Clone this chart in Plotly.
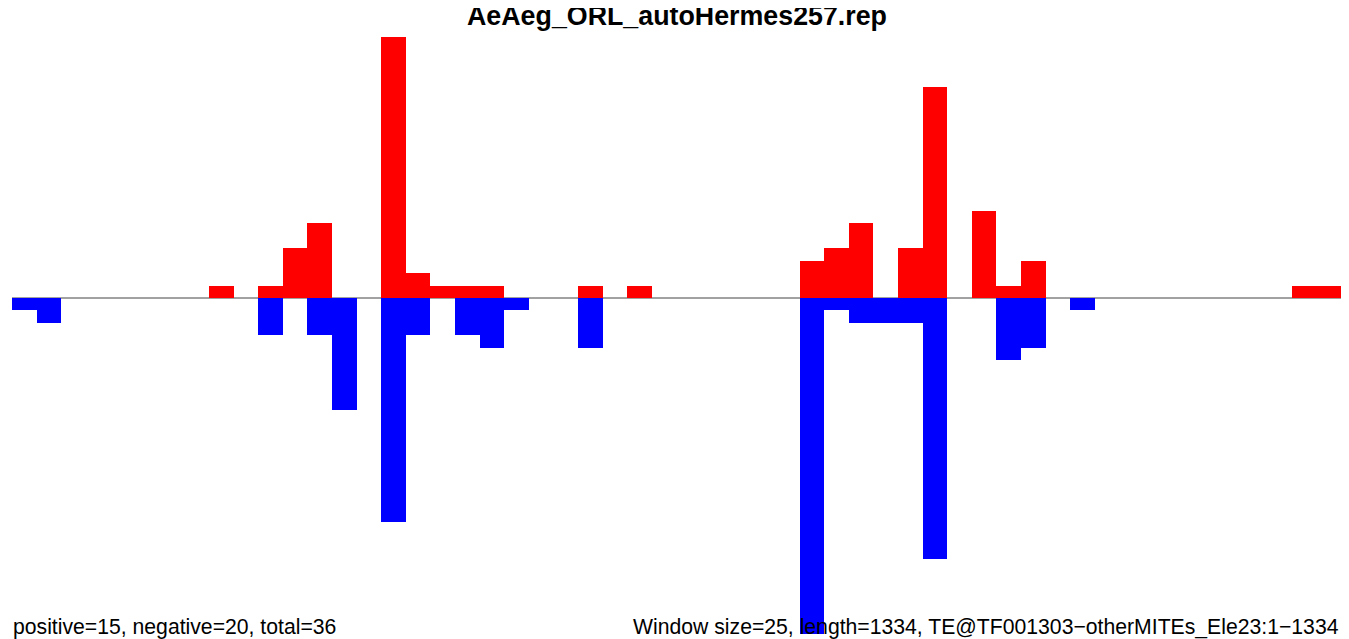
import plotly.graph_objects as go

title_text = "AeAeg_ORL_autoHermes257.rep"
left_note = "positive=15, negative=20, total=36"
right_note = "Window size=25, length=1334, TE@TF001303\u2212otherMITEs_Ele23:1\u22121334"

# window index (window size 25, 54 windows)
windows = list(range(54))
positive = [0, 0, 0, 0, 0, 0, 0, 0, 1, 0,
            1, 4, 6, 0, 0, 21, 2, 1, 1, 1,
            0, 0, 0, 1, 0, 1, 0, 0, 0, 0,
            0, 0, 3, 4, 6, 0, 4, 17, 0, 7,
            1, 3, 0, 0, 0, 0, 0, 0, 0, 0,
            0, 0, 1, 1]
negative = [1, 2, 0, 0, 0, 0, 0, 0, 0, 0,
            3, 0, 3, 9, 0, 18, 3, 0, 3, 4,
            1, 0, 0, 4, 0, 0, 0, 0, 0, 0,
            0, 0, 27, 1, 2, 2, 2, 21, 0, 0,
            5, 4, 0, 1, 0, 0, 0, 0, 0, 0,
            0, 0, 0, 0]

centers = [w + 0.5 for w in windows]

W, H = 1341, 631  # page body has an 8px margin

fig = go.Figure()
fig.add_trace(go.Bar(x=centers, y=positive, width=1, marker=dict(color="#FF0000", line=dict(width=0)),
                     hoverinfo="skip", showlegend=False))
fig.add_trace(go.Bar(x=centers, y=[-v for v in negative], width=1,
                     marker=dict(color="#0000FF", line=dict(width=0)),
                     hoverinfo="skip", showlegend=False))

fig.add_shape(type="line", x0=0, x1=len(windows), y0=0, y1=0, xref="x", yref="y",
              line=dict(color="#444444", width=1), layer="below")

font_family = "Liberation Sans, Arial, Helvetica, sans-serif"
fig.add_annotation(text="<b>" + title_text + "</b>", xref="paper", yref="paper",
                   x=668.5 / W, y=1 - 7.7 / H, xanchor="center", yanchor="middle", showarrow=False,
                   font=dict(family=font_family, size=26.8, color="black"))
fig.add_annotation(text=left_note, xref="paper", yref="paper",
                   x=4 / W, y=1 - 618.6 / H, xanchor="left", yanchor="middle", showarrow=False,
                   font=dict(family=font_family, size=21.2, color="black"), borderpad=0)
fig.add_annotation(text=right_note, xref="paper", yref="paper",
                   x=1332 / W, y=1 - 618.6 / H, xanchor="right", yanchor="middle", showarrow=False,
                   font=dict(family=font_family, size=21.2, color="black"), borderpad=0)

k = 1329 / 54
x0 = -4 / k
x1 = x0 + W / k
unit = 12.43
y1 = 290 / unit
y0 = y1 - H / unit

fig.update_layout(
    width=W, height=H,
    margin=dict(l=0, r=0, t=0, b=0),
    barmode="overlay", bargap=0,
    plot_bgcolor="white", paper_bgcolor="white",
    xaxis=dict(range=[x0, x1], visible=False, fixedrange=True),
    yaxis=dict(range=[y0, y1], visible=False, fixedrange=True),
)

fig.write_html("out.html")
